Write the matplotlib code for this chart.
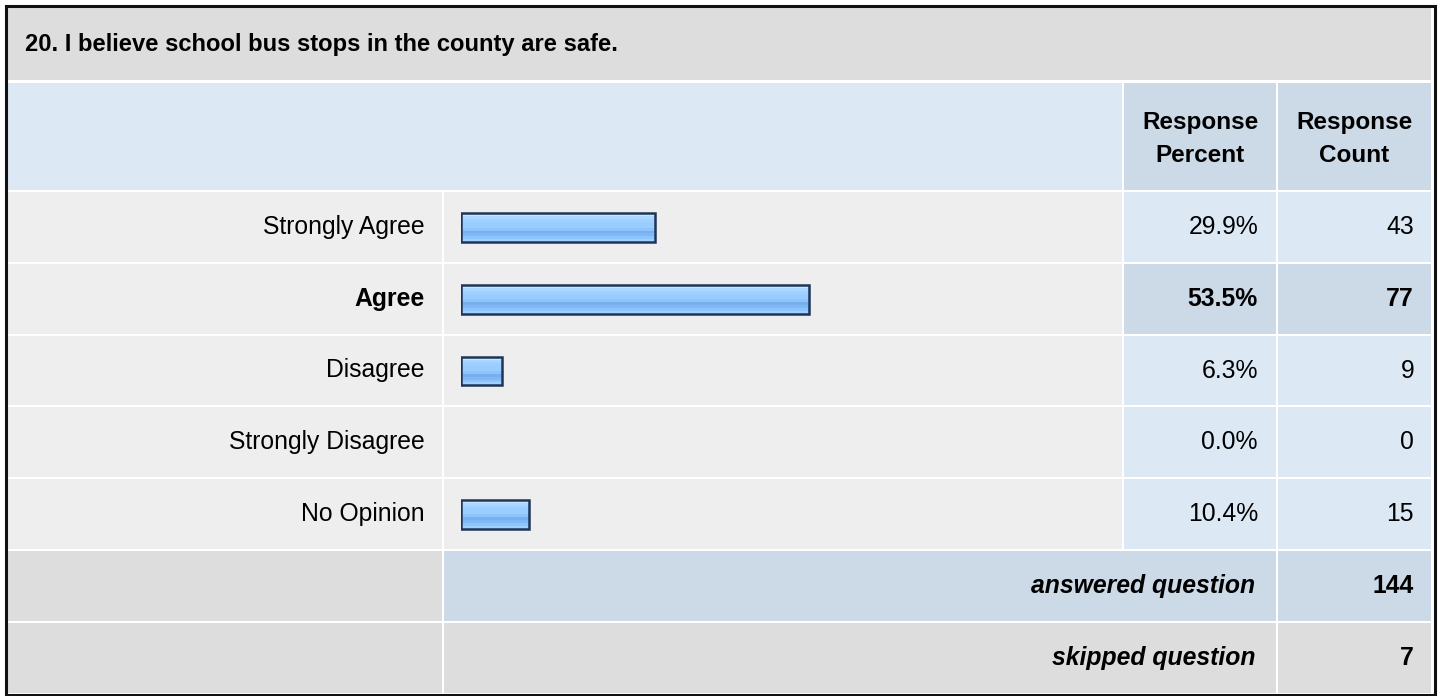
# survey question table with horizontal response bars
import matplotlib
matplotlib.use("Agg")
import matplotlib.pyplot as plt
from matplotlib.patches import Rectangle

plt.rcParams['font.family'] = ['Liberation Sans', 'DejaVu Sans']

# data
question = "20. I believe school bus stops in the county are safe."
answers = ["Strongly Agree", "Agree", "Disagree", "Strongly Disagree", "No Opinion"]
percents = [29.9, 53.5, 6.3, 0.0, 10.4]
counts = [43, 77, 9, 0, 15]
answered = 144
skipped = 7

# colours
GRAY_TITLE = "#dddddd"
GRAY_ROW = "#eeeeee"
BLUE_LIGHT = "#dde8f5"
BLUE_DARK = "#ccd9e7"
EDGE = "#1e3558"
FS = 17.8

W, H = 1440, 696
fig = plt.figure(figsize=(W / 100, H / 100), dpi=100)
ax = fig.add_axes([0, 0, 1, 1])
ax.set_xlim(0, W)
ax.set_ylim(H, 0)
ax.axis("off")


def cell(x0, x1, y0, y1, color):
    ax.add_patch(Rectangle((x0, y0), x1 - x0, y1 - y0, facecolor=color,
                           edgecolor="none", zorder=1))


# column edges
c_lab = (8, 442)
c_bar = (444, 1122)
c_pct = (1124, 1276)
c_cnt = (1278, 1431)
row_top = 192
row_h = 71.8
gap = 2

# title band
cell(8, 1431, 8, 80, GRAY_TITLE)
ax.text(25, 45, question, fontsize=17.1, fontweight="bold", va="center", ha="left")

# header
cell(c_lab[0], c_bar[1], 83, 190, BLUE_LIGHT)
cell(*c_pct, 83, 190, BLUE_DARK)
cell(*c_cnt, 83, 190, BLUE_DARK)
ax.text(sum(c_pct) / 2, 139, "Response\nPercent", fontsize=17.5, fontweight="bold",
        ha="center", va="center", linespacing=1.55)
ax.text(sum(c_cnt) / 2, 139, "Response\nCount", fontsize=17.5, fontweight="bold",
        ha="center", va="center", linespacing=1.55)

top_pick = percents.index(max(percents))

for i, (lab, p, n) in enumerate(zip(answers, percents, counts)):
    y0 = row_top + i * row_h
    y1 = y0 + row_h - gap
    yc = (y0 + y1) / 2
    hi = i == top_pick
    cell(*c_lab, y0, y1, GRAY_ROW)
    cell(*c_bar, y0, y1, GRAY_ROW)
    cell(*c_pct, y0, y1, BLUE_DARK if hi else BLUE_LIGHT)
    cell(*c_cnt, y0, y1, BLUE_DARK if hi else BLUE_LIGHT)
    fw = "bold" if hi else "normal"
    ax.text(425, yc, lab, fontsize=FS, fontweight=fw, ha="right", va="center")
    ax.text(1258, yc, f"{p:.1f}%", fontsize=FS, fontweight=fw, ha="right", va="center")
    ax.text(1414, yc, f"{n}", fontsize=FS, fontweight=fw, ha="right", va="center")

# footer rows
y0 = row_top + 5 * row_h
y1 = y0 + row_h - gap
cell(*c_lab, y0, y1, GRAY_TITLE)
cell(c_bar[0], c_pct[1], y0, y1, BLUE_DARK)
cell(*c_cnt, y0, y1, BLUE_DARK)
ax.text(1255, (y0 + y1) / 2, "answered question", fontsize=FS, fontweight="bold",
        style="italic", ha="right", va="center")
ax.text(1414, (y0 + y1) / 2, f"{answered}", fontsize=FS, fontweight="bold",
        ha="right", va="center")

y0 = row_top + 6 * row_h
y1 = y0 + row_h - gap
cell(*c_lab, y0, y1, GRAY_TITLE)
cell(c_bar[0], c_pct[1], y0, y1, GRAY_TITLE)
cell(*c_cnt, y0, y1, GRAY_TITLE)
ax.text(1255, (y0 + y1) / 2, "skipped question", fontsize=FS, fontweight="bold",
        style="italic", ha="right", va="center")
ax.text(1414, (y0 + y1) / 2, f"{skipped}", fontsize=FS, fontweight="bold",
        ha="right", va="center")

# outer frame
ax.add_patch(Rectangle((6, 6), 1428.5, 688.5, facecolor="none", edgecolor="#111111",
                       lw=2.2, zorder=5))

# bar axes: 100% = 650 px starting at x=461
bx0 = 461
bw = 650
by0 = row_top
by1 = row_top + 5 * row_h - gap
bax = fig.add_axes([bx0 / W, 1 - by1 / H, bw / W, (by1 - by0) / H])
bax.set_xlim(0, 100)
bax.set_ylim(4.5 - 0.014, -0.5)
bax.axis("off")
bax.patch.set_alpha(0)

ypos = list(range(len(answers)))
bar_h = 0.40
# stripes top to bottom to imitate the glossy gradient
stripes = ["#c8e4ff", "#aad6ff", "#9fd0ff", "#99ccff", "#99ccff",
           "#8fc4fb", "#78afee", "#7fb8f5", "#8cc4ff", "#a0d0ff"]
sh = bar_h / len(stripes)
for k, col in enumerate(stripes):
    off = -bar_h / 2 + sh * (k + 0.5)
    bax.barh([y + off for y in ypos], percents, height=sh * 1.02, color=col,
             edgecolor="none")
for y, p in zip(ypos, percents):
    if p > 0:
        bax.barh(y, p, height=bar_h, facecolor="none", edgecolor=EDGE, lw=1.8)

fig.savefig("out.png", dpi=100)
